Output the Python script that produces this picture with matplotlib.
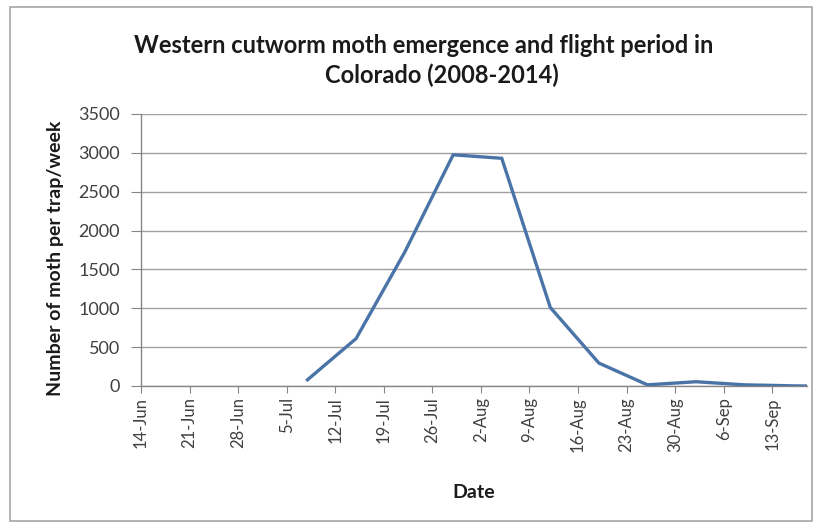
import matplotlib
matplotlib.use("Agg")
import matplotlib.pyplot as plt
from matplotlib.patches import Rectangle

# Weekly axis labels (days counted from 14-Jun)
tick_labels = ["14-Jun", "21-Jun", "28-Jun", "5-Jul", "12-Jul", "19-Jul", "26-Jul",
               "2-Aug", "9-Aug", "16-Aug", "23-Aug", "30-Aug", "6-Sep", "13-Sep"]
tick_days = [0, 7, 14, 21, 28, 35, 42, 49, 56, 63, 70, 77, 84, 91]

# Trap sampling dates (days after 14-Jun) and mean moth counts
sample_days = [24, 31, 38, 45, 52, 59, 66, 73, 80, 87, 94, 96]
moth_counts = [80, 610, 1720, 2975, 2930, 1010, 295, 15, 55, 15, 2, 0]

W, H = 820, 527
plt.rcParams["font.family"] = ["Lato", "DejaVu Sans"]
fig = plt.figure(figsize=(W / 100, H / 100), dpi=100)

# chart border
fig.patches.append(Rectangle((10 / W, 1 - 521 / H), 802 / W, 514 / H,
                             transform=fig.transFigure, fill=False,
                             edgecolor="#a6a6a6", linewidth=1.2))

left, right, top, bottom = 141, 807, 114, 386
ax = fig.add_axes([left / W, 1 - bottom / H, (right - left) / W, (bottom - top) / H])

ax.plot(sample_days, moth_counts, color="#4a74a8", linewidth=2.4,
        solid_joinstyle="miter", zorder=3)

ax.set_xlim(0, 96)
ax.set_ylim(0, 3500)
ax.set_yticks(range(0, 3501, 500))
ax.set_xticks(tick_days)
ax.set_xticklabels(tick_labels, rotation=90, fontsize=12, color="#404040")
ax.tick_params(axis="y", labelsize=13, labelcolor="#404040", length=7.2,
               color="#868686", pad=8)
ax.tick_params(axis="x", length=5, color="#868686", pad=3)

ax.grid(axis="y", color="#a0a0a0", linewidth=1.0)
ax.set_axisbelow(True)
for side in ("top", "right"):
    ax.spines[side].set_visible(False)
for side in ("left", "bottom"):
    ax.spines[side].set_color("#868686")
    ax.spines[side].set_linewidth(1.0)

fig.text(56 / W, 1 - 258 / H, "Number of moth per trap/week", rotation=90,
         ha="center", va="center", fontsize=14, fontweight="bold", color="#1a1a1a")
fig.text(474 / W, 1 - 493 / H, "Date",
         ha="center", va="center", fontsize=14, fontweight="bold", color="#1a1a1a")

fig.text(424 / W, 1 - 45 / H, "Western cutworm moth emergence and flight period in",
         ha="center", va="center", fontsize=17, fontweight="bold", color="#1a1a1a")
fig.text(442 / W, 1 - 75 / H, "Colorado (2008-2014)",
         ha="center", va="center", fontsize=17, fontweight="bold", color="#1a1a1a")

fig.savefig("out.png", dpi=100)
